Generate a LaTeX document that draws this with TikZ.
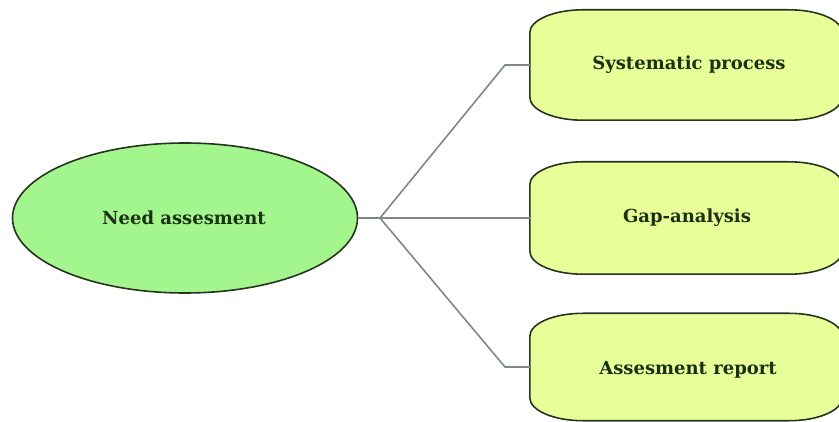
\documentclass[tikz,border=0pt]{standalone}
\usepackage{fontspec}
\setmainfont{DejaVu Serif}
\usetikzlibrary{shapes.geometric}

\definecolor{rootfill}{RGB}{163,246,141}
\definecolor{leaffill}{RGB}{232,255,153}
\definecolor{edgeline}{RGB}{38,52,30}
\definecolor{linkgray}{RGB}{128,136,134}
\definecolor{labelink}{RGB}{28,48,20}

\tikzset{
  rootnode/.style={ellipse, draw=edgeline, line width=1.6pt, fill=rootfill,
    minimum width=345pt, minimum height=150pt, inner sep=0pt},
  leafnode/.style={rectangle, inner sep=0pt, minimum width=312pt},
  leafline/.style={draw=edgeline, line width=1.6pt, fill=leaffill},
  label/.style={font=\bfseries\fontsize{18}{20}\selectfont, text=labelink},
  link/.style={draw=linkgray, line width=1.6pt},
}

% rounded box with elliptical corners around a node
\newcommand{\leafoutline}[1]{%
  \path[leafline]
    ([yshift=-23pt]#1.north west) -- ([yshift=23pt]#1.south west)
    arc[start angle=180, end angle=270, x radius=53pt, y radius=23pt]
    -- ([xshift=-53pt]#1.south east)
    arc[start angle=270, end angle=360, x radius=53pt, y radius=23pt]
    -- ([yshift=-23pt]#1.north east)
    arc[start angle=0, end angle=90, x radius=53pt, y radius=23pt]
    -- ([xshift=53pt]#1.north west)
    arc[start angle=90, end angle=180, x radius=53pt, y radius=23pt]
    -- cycle;}

\begin{document}
\begin{tikzpicture}[x=1pt, y=1pt]
  \useasboundingbox (0,0) rectangle (839,421);
  \clip (0,0) rectangle (839,421);

  % leaf boxes (frames first, then labels on top)
  \node[leafnode, minimum height=110pt] (sys) at (686,356) {};
  \node[leafnode, minimum height=112pt] (gap) at (686,203) {};
  \node[leafnode, minimum height=107pt] (rep) at (686,54) {};
  \leafoutline{sys}
  \leafoutline{gap}
  \leafoutline{rep}
  \node[label] at ([xshift=3pt]sys.center) {Systematic process};
  \node[label] at ([xshift=1pt]gap.center) {Gap-analysis};
  \node[label] at ([xshift=2pt,yshift=-3pt]rep.center) {Assesment report};

  % root
  \node[rootnode] (need) at (185,203) {};
  \node[label] at ([xshift=-1pt]need.center) {Need assesment};

  % connectors
  \coordinate (hub) at (380,203);
  \coordinate (bendtop) at (505,356);
  \coordinate (bendbot) at (505,54);
  \draw[link] (need.east) -- (hub);
  \draw[link] (hub) -- (bendtop) -- (sys.west);
  \draw[link] (hub) -- (gap.west);
  \draw[link] (hub) -- (bendbot) -- (rep.west);
\end{tikzpicture}
\end{document}
